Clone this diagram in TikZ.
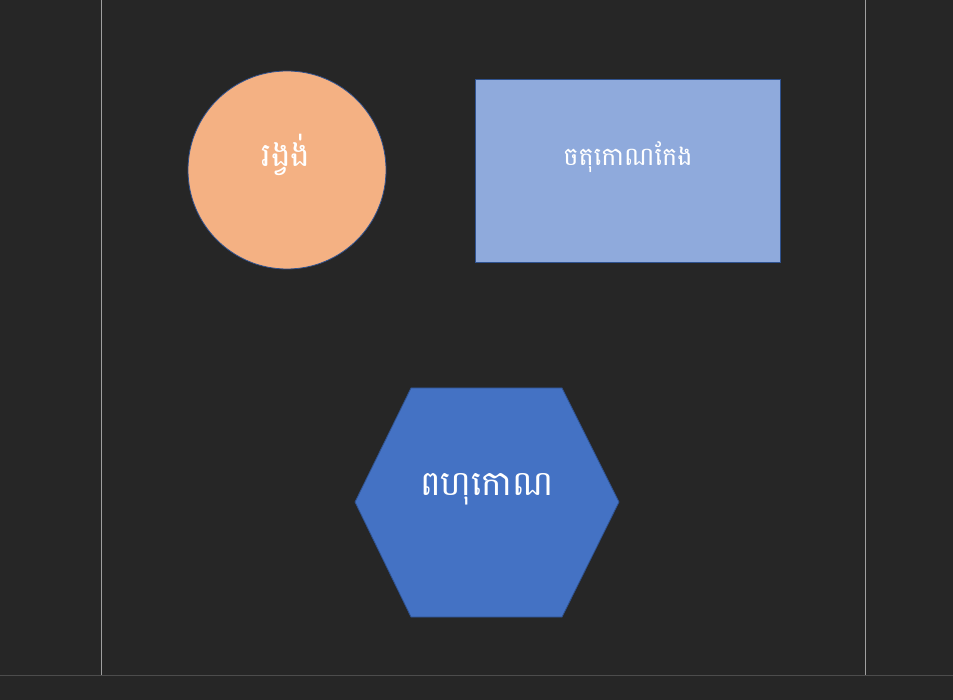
\documentclass[tikz,border=0pt]{standalone}
\usepackage{fontspec}
\newfontfamily\khmerfont[Script=Khmer]{Battambang}
\usetikzlibrary{calc}
\definecolor{bg}{HTML}{262626}
\definecolor{peach}{HTML}{F4B183}
\definecolor{lightblue}{HTML}{8FAADC}
\definecolor{midblue}{HTML}{4472C4}
\definecolor{edgeblue}{HTML}{2F528F}

\begin{document}
\begin{tikzpicture}[x=1pt, y=-1pt, label/.style={text=white, font=\khmerfont, inner sep=0pt}]
	\fill[bg] (0,0) rectangle (953,700);
	\useasboundingbox (0,0) rectangle (953,700);
	\draw[gray!60!black, line width=1pt] (0,675)--(953,675);
	\draw[gray!75, line width=1pt] (101,0)--(101,675);
	\draw[gray!75, line width=1pt] (865,0)--(865,675);
	\draw[fill=peach, draw=edgeblue, line width=0.8pt] (287,170) circle (99);
	\draw[fill=lightblue, draw=edgeblue, line width=0.8pt] (475,79) rectangle (780,262);
	\draw[fill=midblue, draw=edgeblue, line width=0.8pt] (411,388)--(562,388)--(619,502)--(562,617)--(411,617)--(355,502)--cycle;
	\node[label, font=\khmerfont\fontsize{33}{40}\selectfont] (circletext) at (286,155) {រង្វង់};
	\node[label, font=\khmerfont\fontsize{25.5}{32}\selectfont] (recttext) at (628,157) {ចតុកោណកែង};
	\node[label, font=\khmerfont\fontsize{34.5}{40}\selectfont] (hextext) at (487,489) {ពហុកោណ};
\end{tikzpicture}
\end{document}
